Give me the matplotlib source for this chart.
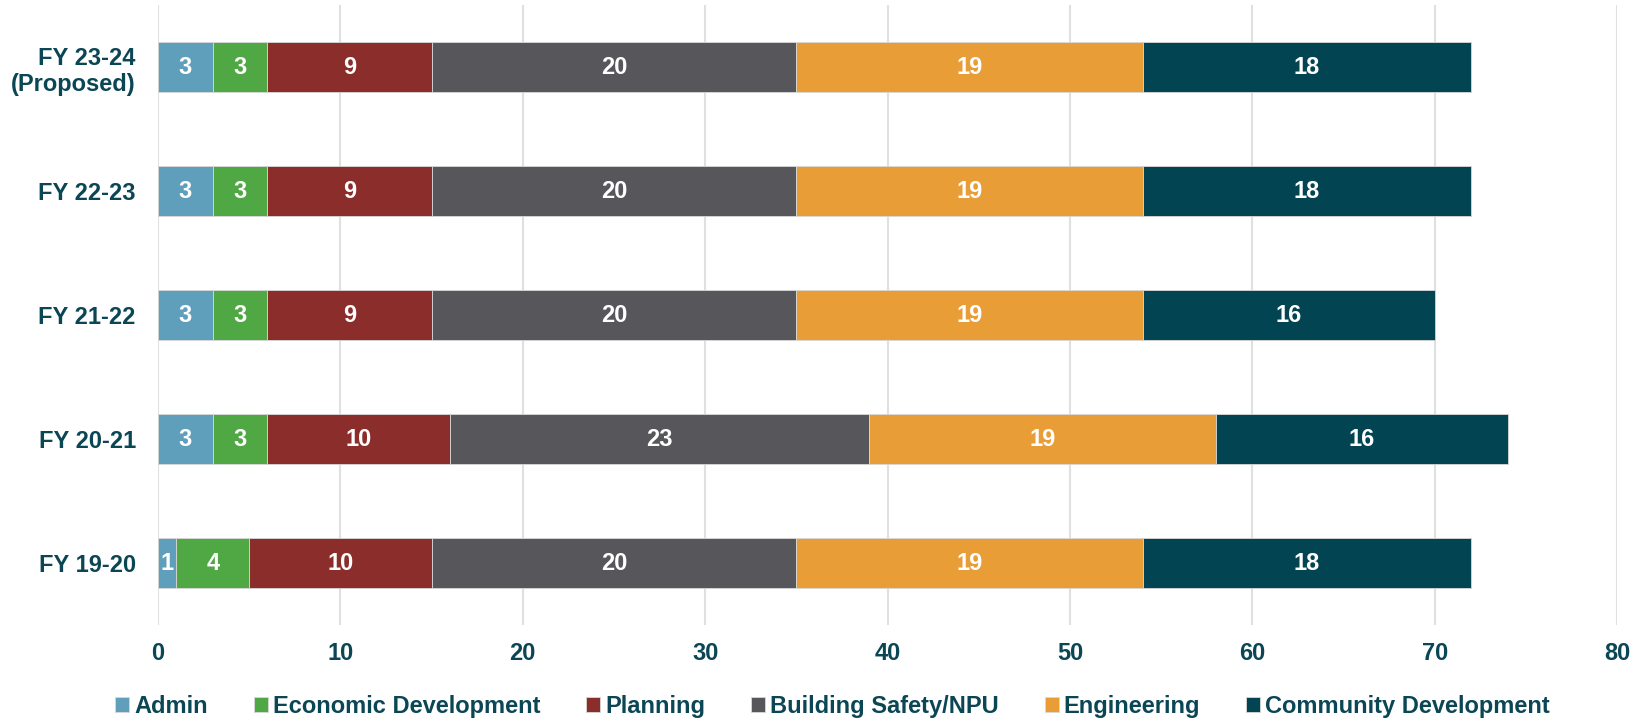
import matplotlib
matplotlib.use("Agg")
import matplotlib.pyplot as plt
import numpy as np

categories = ["FY 23-24\n(Proposed)", "FY 22-23", "FY 21-22", "FY 20-21", "FY 19-20"]
series_names = ["Admin", "Economic Development", "Planning", "Building Safety/NPU",
                "Engineering", "Community Development"]
admin = [3, 3, 3, 3, 1]
econ = [3, 3, 3, 3, 4]
planning = [9, 9, 9, 10, 10]
building = [20, 20, 20, 23, 20]
engineering = [19, 19, 19, 19, 19]
community = [18, 18, 16, 16, 18]
series = [admin, econ, planning, building, engineering, community]
colors = ["#5f9fbb", "#4fa843", "#8b2d2a", "#57575b", "#e99d36", "#024452"]
xticks = [0, 10, 20, 30, 40, 50, 60, 70, 80]

text_color = "#0b4654"
plt.rcParams['font.family'] = ['Liberation Sans', 'DejaVu Sans']
plt.rcParams['font.weight'] = 'bold'

fig = plt.figure(figsize=(16.39, 7.18), dpi=100)
ax = fig.add_axes([0.0964, 0.1295, 0.8902, 0.8635])

y = np.arange(len(categories))
left = np.zeros(len(categories))
for name, vals, c in zip(series_names, series, colors):
    vals = np.array(vals, dtype=float)
    bars = ax.barh(y, vals, left=left, height=0.4, color=c, label=name,
                   edgecolor="#d8d8d8", linewidth=0.6, zorder=3)
    for b, v in zip(bars, vals):
        ax.text(b.get_x() + b.get_width() / 2, b.get_y() + b.get_height() / 2,
                f"{int(v)}", ha="center", va="center", color="white",
                fontsize=17, fontweight="bold", zorder=4)
    left += vals

ax.set_ylim(len(categories) - 0.5, -0.5)
ax.set_xlim(0, 80)
ax.set_yticks(y)
ax.set_yticklabels(categories, fontsize=17, fontweight="bold", color=text_color)
ax.set_xticks(xticks)
ax.set_xticklabels([str(t) for t in xticks], fontsize=17, fontweight="bold", color=text_color)
ax.tick_params(axis="both", length=0)
ax.tick_params(axis="x", pad=12)
ax.tick_params(axis="y", pad=16)
for s in ax.spines.values():
    s.set_visible(False)
ax.grid(axis="x", color="#e0e0e0", linewidth=1.5, zorder=0)
ax.set_axisbelow(True)

leg = fig.legend(loc="lower center", bbox_to_anchor=(0.508, -0.03), ncol=6,
                 frameon=False, fontsize=17, handlelength=0.6, handleheight=0.6,
                 handletextpad=0.2, columnspacing=1.95, labelcolor=text_color)
for t in leg.get_texts():
    t.set_fontweight("bold")

fig.savefig("out.png", dpi=100)
